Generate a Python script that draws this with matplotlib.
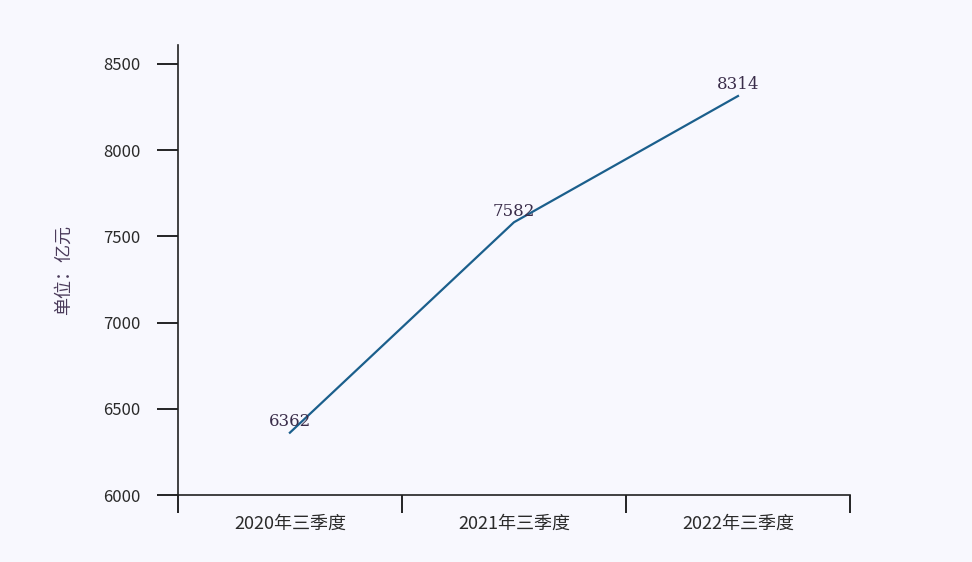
import matplotlib.pyplot as plt

plt.rcParams['font.family'] = ['Noto Sans CJK SC', 'DejaVu Sans']

categories = ['2020年三季度', '2021年三季度', '2022年三季度']
values = [6362, 7582, 8314]
yticks = [6000, 6500, 7000, 7500, 8000, 8500]

bg = '#f8f8fe'
fig = plt.figure(figsize=(9.72, 5.62), dpi=100, facecolor=bg)
ax = fig.add_axes([0.183, 0.119, 0.6915, 0.801], facecolor=bg)

xs = [i + 0.5 for i in range(len(values))]
ax.plot(xs, values, color='#1b5f8c', lw=1.6)
for x, v in zip(xs, values):
    ax.annotate(str(v), (x, v), xytext=(0, 8), textcoords='offset points',
                ha='center', va='center', fontsize=12,
                family='DejaVu Serif', color='#3a2d4a')

ax.set_xlim(0, 3)
ax.set_ylim(6000, 8610)
ax.set_yticks(yticks)
ax.set_xticks([0, 1, 2, 3])
ax.set_xticklabels([])
ax.set_xticks(xs, minor=True)
ax.set_xticklabels(categories, minor=True)
ax.tick_params(axis='x', which='minor', length=0, pad=14, labelsize=13, labelcolor='#2a2a2a')
ax.tick_params(axis='x', which='major', length=13, width=1.2, direction='out')
ax.tick_params(axis='y', length=15, width=1.2, labelsize=12, labelcolor='#2a2a2a', pad=12)
for s in ['top', 'right']:
    ax.spines[s].set_visible(False)
for s in ['left', 'bottom']:
    ax.spines[s].set_linewidth(1.2)
    ax.spines[s].set_color('#222222')
ax.set_ylabel('单位：亿元', fontsize=13, color='#4a3a5a', labelpad=22)

fig.savefig('out.png', dpi=100, facecolor=bg)
